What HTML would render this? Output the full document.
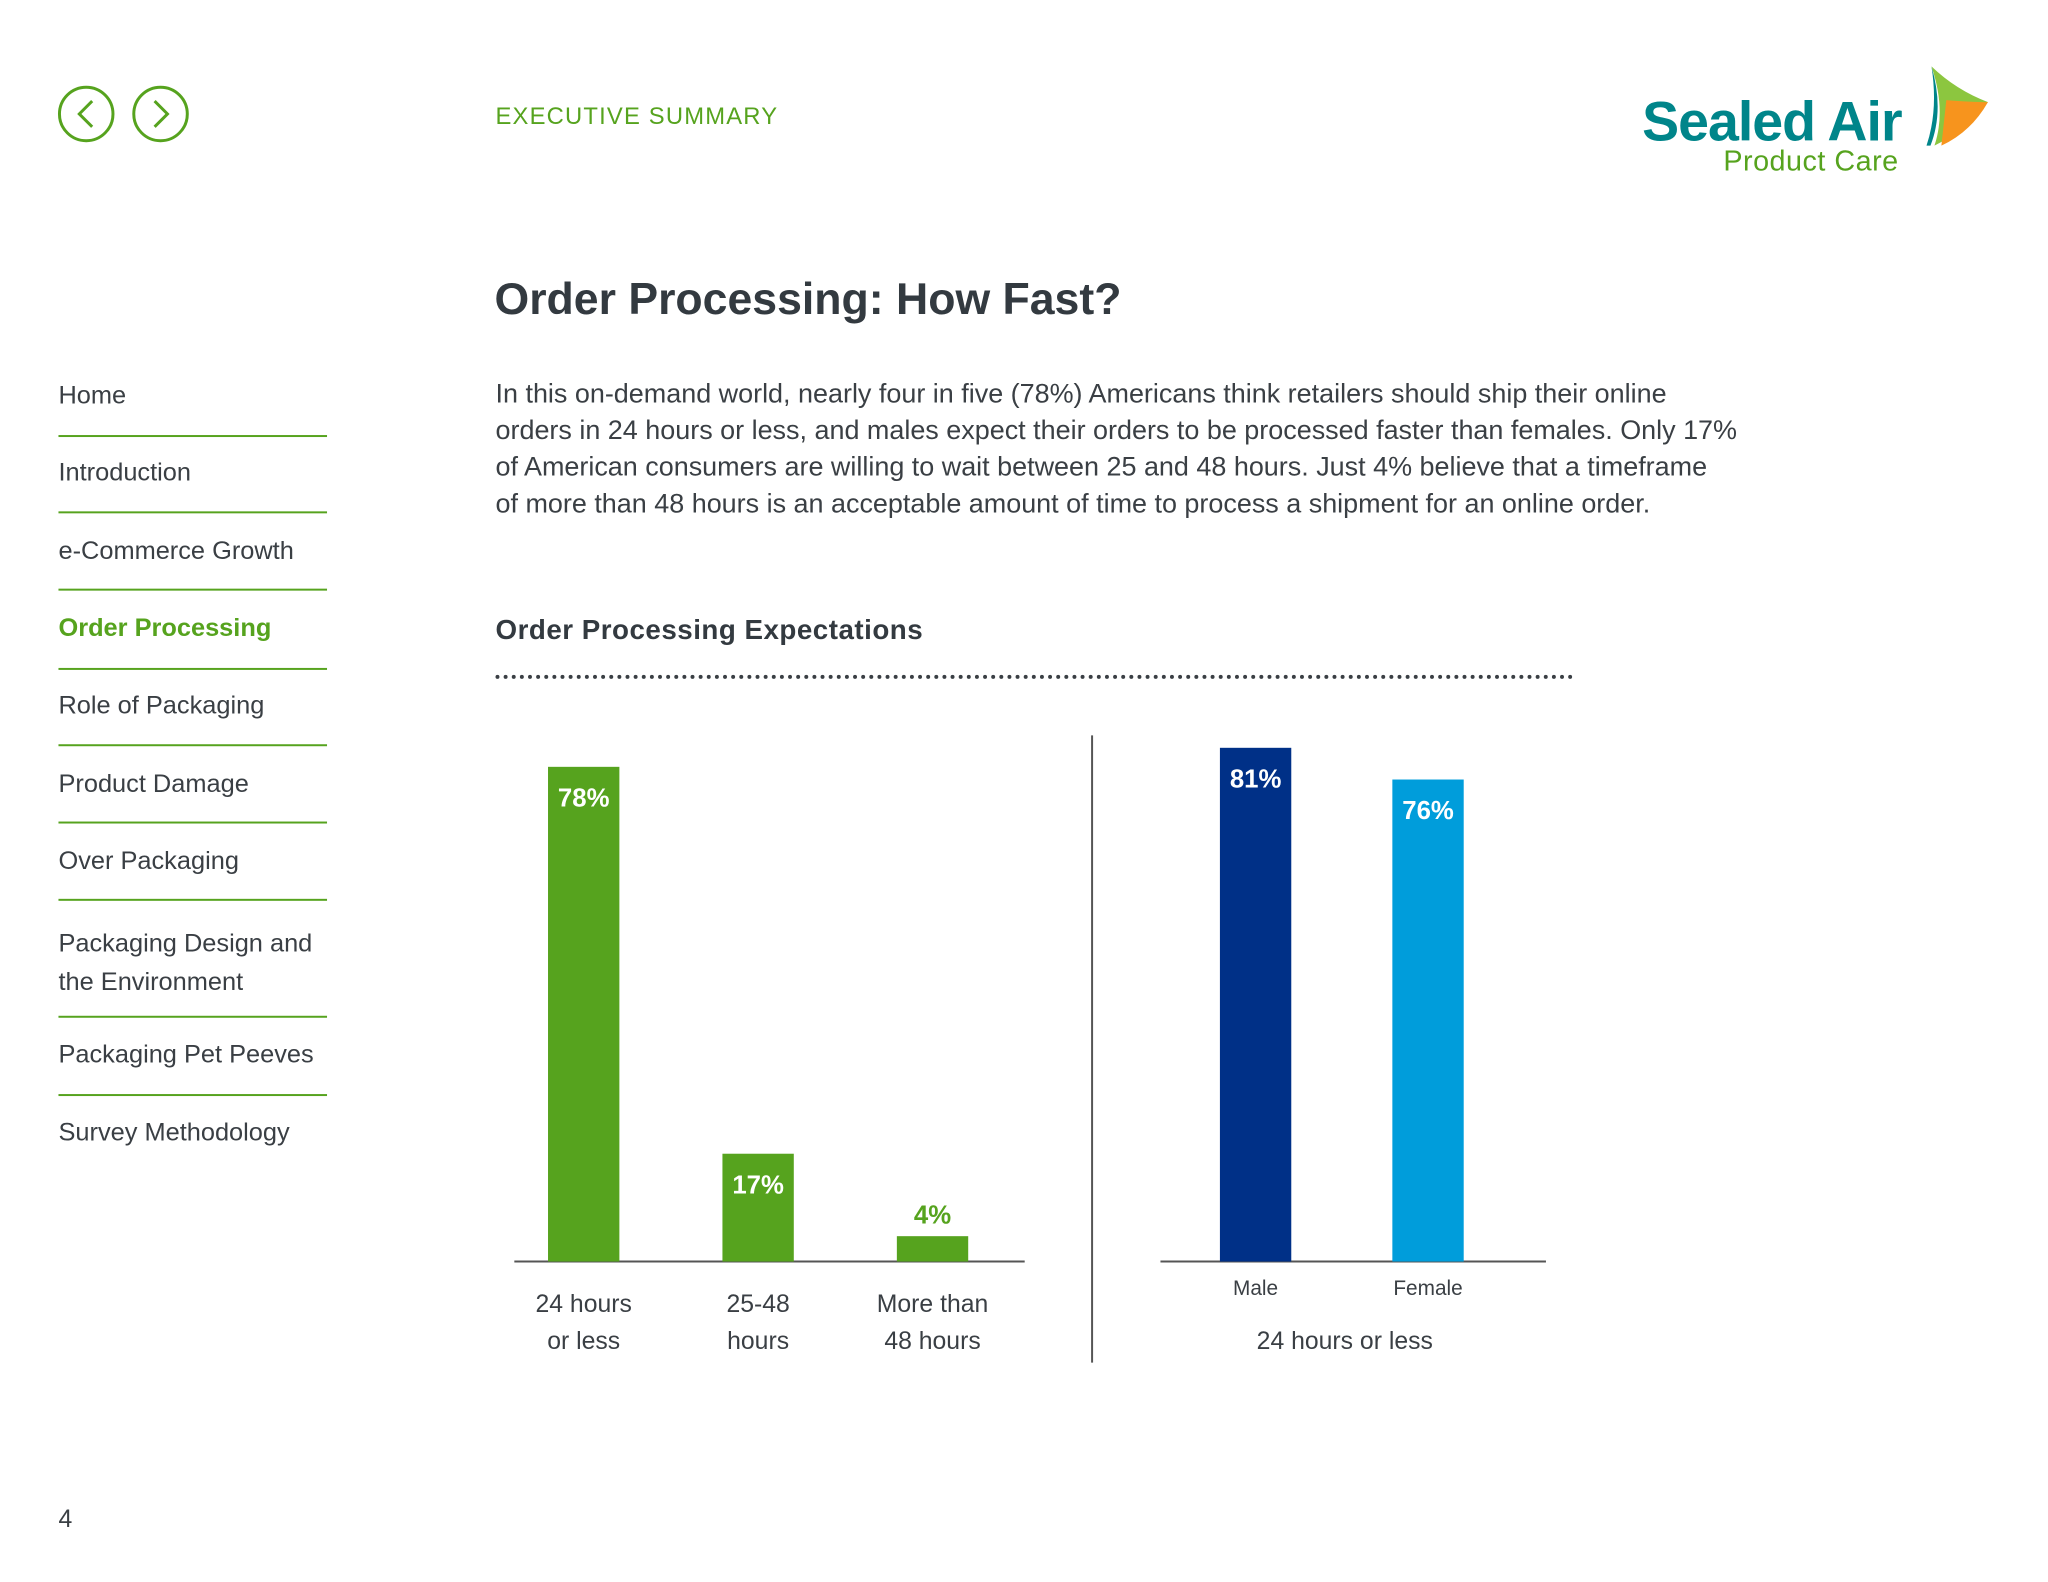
<!DOCTYPE html>
<html><head><meta charset="utf-8"><style>
body{margin:0;width:2048px;height:1582px;background:#fff;position:relative;overflow:hidden;font-family:"Liberation Sans",sans-serif;color:#3a3f44}
#wrap{position:absolute;left:0;top:0;width:2048px;height:1582px;transform:scale(0.991);transform-origin:0 0}
.a{position:absolute;white-space:nowrap}
.nav{position:absolute;left:59px;font-size:25.6px;color:#3a3f44}
.ln{position:absolute;left:59px;width:271px;height:2px;background:#56a31e}
</style></head><body><div id="wrap">
<svg class="a" style="left:0;top:0" width="220" height="170">
<g><circle cx="87" cy="115" r="27" fill="none" stroke="#56a31e" stroke-width="3"/><path d="M93 102 L80 115 L93 128" fill="none" stroke="#56a31e" stroke-width="3"/></g>
<g><circle cx="162" cy="115" r="27" fill="none" stroke="#56a31e" stroke-width="3"/><path d="M156 102 L169 115 L156 128" fill="none" stroke="#56a31e" stroke-width="3"/></g>
</svg>
<div class="a" style="left:500px;top:104px;font-size:24px;color:#56a31e;letter-spacing:1.2px">EXECUTIVE SUMMARY</div>
<div class="a" style="left:1657px;top:60px;width:380px;height:120px">
<div class="a" style="left:0px;top:30px;font-size:56px;font-weight:bold;color:#00858a;letter-spacing:-1px">Sealed Air</div>
<div class="a" style="left:82px;top:87px;font-size:29px;color:#56a31e;letter-spacing:0.5px">Product Care</div>
<svg class="a" style="left:277px;top:5px" width="80" height="90"><path d="M15 2 Q40 26 72 38 Q50 66 18 82 Q30 46 15 2Z" fill="#8cc63f"/><path d="M30 36 Q55 38 72 38 Q55 68 25 82Z" fill="#f7941d"/><path d="M15 2 Q22 46 10 82 L14 82 Q28 46 15 2Z" fill="#00858a"/></svg>
</div>
<div class="a" style="left:499px;top:276px;font-size:45px;font-weight:bold;color:#333a40">Order Processing: How Fast?</div>
<div class="a" style="left:500px;top:378px;font-size:27.2px;line-height:37px;white-space:nowrap">In this on-demand world, nearly four in five (78%) Americans think retailers should ship their online<br>orders in 24 hours or less, and males expect their orders to be processed faster than females. Only 17%<br>of American consumers are willing to wait between 25 and 48 hours. Just 4% believe that a timeframe<br>of more than 48 hours is an acceptable amount of time to process a shipment for an online order.</div>

<div class="nav" style="top:385px">Home</div><div class="ln" style="top:439px"></div>
<div class="nav" style="top:463px">Introduction</div><div class="ln" style="top:516px"></div>
<div class="nav" style="top:542px">e-Commerce Growth</div><div class="ln" style="top:594px"></div>
<div class="nav" style="top:620px;color:#56a31e;font-weight:bold">Order Processing</div><div class="ln" style="top:674px"></div>
<div class="nav" style="top:698px">Role of Packaging</div><div class="ln" style="top:751px"></div>
<div class="nav" style="top:777px">Product Damage</div><div class="ln" style="top:829px"></div>
<div class="nav" style="top:855px">Over Packaging</div><div class="ln" style="top:907px"></div>
<div class="nav" style="top:933px;line-height:39px">Packaging Design and<br>the Environment</div><div class="ln" style="top:1025px"></div>
<div class="nav" style="top:1050px">Packaging Pet Peeves</div><div class="ln" style="top:1104px"></div>
<div class="nav" style="top:1129px">Survey Methodology</div>
<div class="a" style="left:59px;top:1519px;font-size:25px">4</div>

<div class="a" style="left:500px;top:620px;font-size:28px;font-weight:bold;color:#333a40;letter-spacing:0.5px">Order Processing Expectations</div>
<svg class="a" style="left:0;top:0" width="2048" height="1582" id="chart">
<line x1="502" y1="683" x2="1586" y2="683" stroke="#3a3f44" stroke-width="4" stroke-linecap="round" stroke-dasharray="0 8.2"/>
</svg>
</div>
<script>
const leftCats=["24 hours|or less","25-48|hours","More than|48 hours"];
const leftVals=[78,17,4];
const rightCats=["Male","Female"];
const rightVals=[81,76];
const rightColors=["#003087","#009ddb"];
const NS="http://www.w3.org/2000/svg",svg=document.getElementById('chart');
const base=1273,ppu=6.4;
const y=v=>base-v*ppu;
function mk(t,a){const e=document.createElementNS(NS,t);for(const k in a)e.setAttribute(k,a[k]);svg.appendChild(e);return e;}
function txt(x,yy,s,size,fill,bold,name){const e=mk('text',{x:x,y:yy,'text-anchor':'middle','font-size':size,fill:fill,'font-family':'Liberation Sans, sans-serif','font-weight':bold?'bold':'normal'});e.textContent=s;

return e;}
let ax=mk('line',{x1:519,y1:base,x2:1034,y2:base,stroke:'#555',"stroke-width":2});


let dv=mk('line',{x1:1102,y1:742,x2:1102,y2:1375,stroke:'#555',"stroke-width":2});


let ax2=mk('line',{x1:1171,y1:base,x2:1560,y2:base,stroke:'#555',"stroke-width":2});


const lx0=589,lstep=176,bw=72;
leftVals.forEach((v,i)=>{const cx=lx0+i*lstep;
const r=mk('rect',{x:cx-bw/2,y:y(v),width:bw,height:v*ppu,fill:'#56a31e'});


if(v*ppu>60)txt(cx,y(v)+40,v+'%',26,'#fff',true,'bar-value-label');else txt(cx,y(v)-13,v+'%',26,'#56a31e',true,'bar-value-label');
const p=leftCats[i].split('|');txt(cx,1324,p[0],25,'#3a3f44',false,'x-tick-label');txt(cx,1361,p[1],25,'#3a3f44',false,'x-tick-label');});
const rx0=1267,rstep=174;
rightVals.forEach((v,i)=>{const cx=rx0+i*rstep;
const r=mk('rect',{x:cx-bw/2,y:y(v),width:bw,height:v*ppu,fill:rightColors[i]});


txt(cx,y(v)+40,v+'%',26,'#fff',true,'bar-value-label');
txt(cx,1307,rightCats[i],21,'#3a3f44',false,'x-tick-label');});
txt(1357,1361,'24 hours or less',25,'#3a3f44',false,'right-group-label');
</script>
</body></html>
